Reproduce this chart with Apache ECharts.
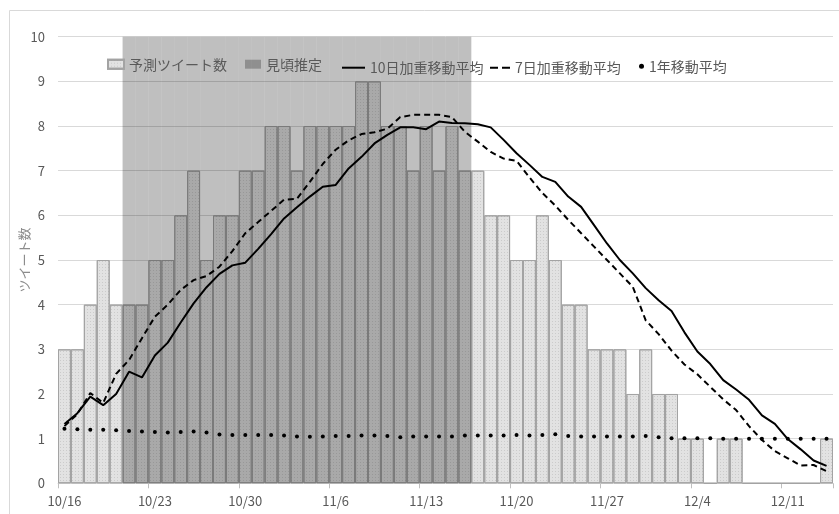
<!DOCTYPE html>
<html>
<head>
<meta charset="utf-8">
<script src="https://cdn.jsdelivr.net/npm/echarts@6/dist/echarts.min.js"></script>
<style>
html,body{margin:0;padding:0;background:#fff;}
#chart{width:839px;height:514px;}
</style>
</head>
<body>
<div id="chart"></div>
<script>
const categories = [
 '10/16','10/17','10/18','10/19','10/20','10/21','10/22','10/23','10/24','10/25','10/26','10/27','10/28','10/29','10/30','10/31',
 '11/1','11/2','11/3','11/4','11/5','11/6','11/7','11/8','11/9','11/10','11/11','11/12','11/13','11/14','11/15','11/16','11/17','11/18','11/19','11/20',
 '11/21','11/22','11/23','11/24','11/25','11/26','11/27','11/28','11/29','11/30',
 '12/1','12/2','12/3','12/4','12/5','12/6','12/7','12/8','12/9','12/10','12/11','12/12','12/13','12/14'
];
const predicted = [3,3,4,5,4,4,4,5,5,6, 7,5,6,6,7,7,8,8,7,8, 8,8,8,9,9,8,8,7,8,7, 8,7,7,6,6,5,5,6,5,4, 4,3,3,3,2,3,2,2,1,1, 0,1,1,0,0,0,0,0,0,1];
const peakEstimate = [null,null,null,null,null,10,10,10,10,10, 10,10,10,10,10,10,10,10,10,10, 10,10,10,10,10,10,10,10,10,10, 10,10,null,null,null,null,null,null,null,null, null,null,null,null,null,null,null,null,null,null, null,null,null,null,null,null,null,null,null,null];
const avg10 = [1.33,1.57,1.94,1.75,2.0,2.5,2.37,2.86,3.15,3.6, 4.03,4.39,4.69,4.88,4.94,5.25,5.58,5.93,6.18,6.42, 6.64,6.68,7.05,7.31,7.61,7.8,7.97,7.97,7.93,8.1, 8.07,8.06,8.04,7.97,7.69,7.39,7.13,6.86,6.75,6.42, 6.19,5.78,5.37,5.0,4.7,4.37,4.1,3.86,3.38,2.95, 2.67,2.31,2.1,1.87,1.52,1.33,0.99,0.76,0.51,0.39];
const avg7 = [1.28,1.55,2.02,1.8,2.45,2.76,3.25,3.73,4.0,4.33, 4.55,4.64,4.85,5.2,5.6,5.85,6.1,6.35,6.37,6.75, 7.15,7.47,7.68,7.82,7.86,7.94,8.2,8.25,8.25,8.25, 8.2,7.87,7.65,7.42,7.27,7.22,6.85,6.5,6.22,5.9, 5.6,5.3,5.0,4.7,4.4,3.65,3.34,2.97,2.66,2.44, 2.16,1.88,1.64,1.28,0.97,0.72,0.56,0.4,0.41,0.27];
const avgYear = [1.22,1.21,1.2,1.2,1.19,1.17,1.16,1.15,1.14,1.15, 1.16,1.14,1.09,1.08,1.08,1.08,1.08,1.07,1.05,1.04, 1.05,1.06,1.06,1.07,1.07,1.06,1.03,1.05,1.05,1.05, 1.05,1.07,1.07,1.07,1.07,1.08,1.07,1.08,1.1,1.06, 1.05,1.05,1.05,1.05,1.05,1.06,1.03,1.01,1.01,1.01, 1.01,1.0,1.0,1.0,1.0,1.0,1.0,1.0,1.0,1.0];
const yTicks = [0,1,2,3,4,5,6,7,8,9,10];

const FONT = '"Noto Sans CJK JP", "Noto Sans", sans-serif';
const chart = echarts.init(document.getElementById('chart'), null, {renderer:'canvas'});
const LEG_CY = 61.7;
function lg(name, left, w, h, icon, color) {
  const item = {name:name};
  if (icon) item.icon = icon;
  if (color) item.itemStyle = {color:color, borderWidth:0};
  return {data:[item], left:left, top:LEG_CY - h/2, padding:0, itemWidth:w, itemHeight:h,
    itemGap:0, selectedMode:false, textStyle:{color:'#595959', fontSize:14, fontFamily:FONT}};
}
chart.setOption({
  animation:false,
  textStyle:{fontFamily:FONT},
  graphic:[{type:'rect', shape:{x:9.5,y:10.5,width:900,height:600}, style:{fill:'none', stroke:'#d9d9d9', lineWidth:1}, silent:true, z:-1}],
  legend:[
    lg('予測ツイート数',107,16,9,'rect'),
    lg('見頃推定',245,16,9,'rect'),
    lg('10日加重移動平均',342,23,2,'rect','#000'),
    lg('7日加重移動平均',490,20,2,'path://M0,0H8V2H0Z M12,0H20V2H12Z','#000'),
    lg('1年移動平均',639,5,5,'circle','#000')
  ],
  grid:{left:58,right:6,top:36.7,bottom:30.7,containLabel:false},
  xAxis:{type:'category', data:categories, boundaryGap:true,
    axisLine:{lineStyle:{color:'#d9d9d9'}},
    axisTick:{show:true, interval:6, alignWithLabel:false, length:5, lineStyle:{color:'#bfbfbf'}},
    axisLabel:{interval:6, color:'#595959', fontSize:13, margin:11, fontFamily:FONT}},
  yAxis:{type:'value', min:yTicks[0], max:yTicks[yTicks.length-1], interval:1,
    name:'ツイート数', nameLocation:'middle', nameRotate:90, nameGap:27, nameMoveOverlap:false,
    nameTextStyle:{color:'#8c8c8c', fontSize:13, fontFamily:FONT},
    axisLine:{show:false}, axisTick:{show:false},
    axisLabel:{color:'#595959', fontSize:13, margin:13, fontFamily:FONT},
    splitLine:{lineStyle:{color:'#d9d9d9'}}},
  series:[
    {name:'予測ツイート数', type:'bar', data:predicted, barCategoryGap:'0%', barGap:'-100%',
      itemStyle:{color:'#e2e2e2', borderColor:'#a3a3a3', borderWidth:1,
        decal:{symbol:'rect', symbolSize:1, dashArrayX:[1,2], dashArrayY:[1,2], color:'rgba(0,0,0,0.10)'}}},
    {name:'見頃推定', type:'bar', data:peakEstimate, barCategoryGap:'0%', barGap:'-100%',
      itemStyle:{color:'rgba(0,0,0,0.25)'}},
    {name:'10日加重移動平均', type:'line', data:avg10, symbol:'none', smooth:false,
      itemStyle:{color:'#000'}, lineStyle:{color:'#000', width:2}},
    {name:'7日加重移動平均', type:'line', data:avg7, symbol:'none', smooth:false,
      itemStyle:{color:'#000'}, lineStyle:{color:'#000', width:2, type:[6,4]}},
    {name:'1年移動平均', type:'line', data:avgYear, symbol:'circle', symbolSize:4, showSymbol:true,
      itemStyle:{color:'#000'}, lineStyle:{width:0, opacity:0}}
  ]
});
</script>
</body>
</html>
